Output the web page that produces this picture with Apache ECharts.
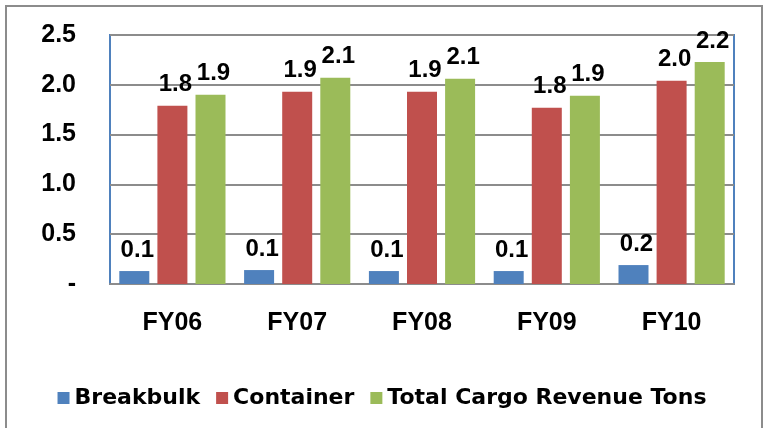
<!DOCTYPE html>
<html>
<head>
<meta charset="utf-8">
<script src="https://cdn.jsdelivr.net/npm/echarts@6/dist/echarts.min.js"></script>
<style>
  html, body { margin: 0; padding: 0; background: #fff; }
  #chart { width: 764px; height: 428px; }
</style>
</head>
<body>
<div id="chart"></div>
<script>
// categories and values (million tons)
var years = ['FY06', 'FY07', 'FY08', 'FY09', 'FY10'];
var breakbulk = [0.13, 0.14, 0.13, 0.13, 0.19];
var container = [1.79, 1.93, 1.93, 1.77, 2.04];
var totalCargo = [1.90, 2.07, 2.06, 1.89, 2.23];
var seriesNames = ['Breakbulk', 'Container', 'Total Cargo Revenue Tons'];
var colors = ['#4f81bd', '#c0504d', '#9bbb59'];

var font = 'Arial, "Liberation Sans", sans-serif';

function barSeries (name, data, color) {
  return {
    name: name,
    type: 'bar',
    data: data,
    barWidth: 30,
    barGap: '27%',
    itemStyle: { color: color },
    label: {
      show: true,
      position: 'top',
      distance: 9,
      offset: [3, 0],
      color: '#000',
      fontFamily: font,
      fontWeight: 'bold',
      fontSize: 24,
      formatter: function (p) { return p.value.toFixed(1) }
    }
  }
}

var myChart = echarts.init(document.getElementById('chart'));
myChart.setOption({
  animation: false,
  color: colors,
  graphic: [{
    type: 'rect',
    shape: { x: 6, y: 6, width: 756, height: 440 },
    style: { fill: 'none', stroke: '#8c8c8c', lineWidth: 2 },
    silent: true
  }],
  grid: {
    left: 110,
    right: 30,
    top: 35,
    bottom: 144,
    show: true,
    borderColor: '#4f81bd',
    borderWidth: 2
  },
  legend: {
    data: seriesNames,
    left: 'center',
    top: 382,
    icon: 'rect',
    itemWidth: 12,
    itemHeight: 12,
    itemGap: 16,
    textStyle: {
      fontFamily: '"DejaVu Sans", sans-serif',
      fontWeight: 'bold',
      fontSize: 22,
      color: '#000'
    }
  },
  xAxis: {
    type: 'category',
    data: years,
    axisLine: { lineStyle: { color: '#8c8c8c', width: 2 } },
    axisTick: { show: false },
    axisLabel: {
      margin: 27,
      color: '#000',
      fontFamily: font,
      fontWeight: 'bold',
      fontSize: 25
    }
  },
  yAxis: {
    type: 'value',
    min: 0,
    max: 2.5,
    interval: 0.5,
    axisLine: { show: false },
    axisTick: { show: false },
    splitLine: { lineStyle: { color: '#8c8c8c', width: 2 } },
    axisLabel: {
      margin: 34,
      color: '#000',
      fontFamily: font,
      fontWeight: 'bold',
      fontSize: 25,
      formatter: function (v) { return v === 0 ? '-' : v.toFixed(1) }
    }
  },
  series: [
    barSeries(seriesNames[0], breakbulk, colors[0]),
    barSeries(seriesNames[1], container, colors[1]),
    barSeries(seriesNames[2], totalCargo, colors[2])
  ]
});
</script>
</body>
</html>
